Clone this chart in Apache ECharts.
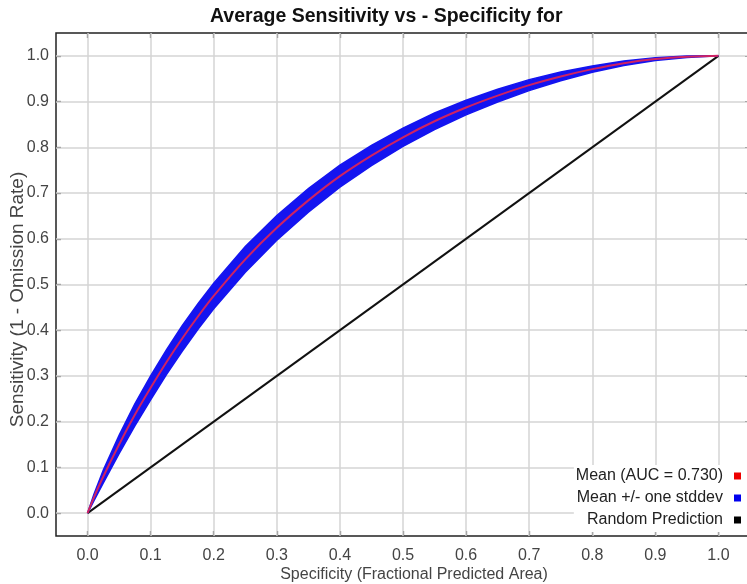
<!DOCTYPE html>
<html>
<head>
<meta charset="utf-8">
<script src="https://cdn.jsdelivr.net/npm/echarts@6/dist/echarts.min.js"></script>
<style>
  html, body { margin: 0; padding: 0; background: #fff; }
  #rocChart { width: 747px; height: 584px; }
</style>
</head>
<body>
<div id="rocChart"></div>
<script>
// fraction of predicted area (x) and the mean / stddev of sensitivity
var specificity     = [0, 0.01, 0.025, 0.05, 0.075, 0.1, 0.125, 0.15, 0.175, 0.2, 0.25, 0.3, 0.35, 0.4, 0.45, 0.5, 0.55, 0.6, 0.65, 0.7, 0.75, 0.8, 0.85, 0.9, 0.95, 1.0];
var meanSensitivity = [0, 0.034, 0.08, 0.15, 0.215, 0.274, 0.33, 0.382, 0.43, 0.475, 0.555, 0.624, 0.684, 0.737, 0.782, 0.822, 0.857, 0.887, 0.913, 0.936, 0.955, 0.971, 0.984, 0.993, 0.998, 1.0];
var stdSensitivity  = [0, 0.007, 0.014, 0.02, 0.024, 0.026, 0.027, 0.028, 0.028, 0.028, 0.028, 0.027, 0.026, 0.024, 0.022, 0.02, 0.018, 0.016, 0.014, 0.012, 0.0095, 0.007, 0.005, 0.003, 0.0015, 0];
var randomX = [0, 1];
var randomY = [0, 1];
var tickValues = [0, 0.1, 0.2, 0.3, 0.4, 0.5, 0.6, 0.7, 0.8, 0.9, 1.0];

var chartOption;

function buildOption(){
    var meanData = [], bandData = [], randomData = [];
    for (var i = 0; i < specificity.length; i++) {
        meanData.push([specificity[i], meanSensitivity[i]]);
        bandData.push([specificity[i], meanSensitivity[i] - stdSensitivity[i], meanSensitivity[i] + stdSensitivity[i]]);
    }
    for (var j = 0; j < randomX.length; j++) {
        randomData.push([randomX[j], randomY[j]]);
    }

    var gridLines = [];
    tickValues.forEach(function (v) {
        gridLines.push({ xAxis: v });
        gridLines.push({ yAxis: v });
    });

    var font = 'Liberation Sans, Arial';

    function axisDef(pos, showLabel, margin){
        return {
            type: 'value', position: pos, min: -0.05, max: 1.05,
            axisLine: { show: false, onZero: false },
            axisTick: { show: true, inside: true, length: 5, customValues: tickValues,
                        lineStyle: { color: '#222', width: 1.2 } },
            axisLabel: { show: showLabel, customValues: tickValues, margin: margin,
                         formatter: function (v) { return v.toFixed(1); },
                         fontFamily: font, fontSize: 16, color: '#444' },
            splitLine: { show: false }
        };
    }

    var xBottom = axisDef('bottom', true, 12);
    xBottom.name = 'Specificity (Fractional Predicted Area)';
    xBottom.nameLocation = 'middle';
    xBottom.nameGap = 31;
    xBottom.nameMoveOverlap = false;
    xBottom.nameTextStyle = { fontFamily: font, fontSize: 16, color: '#444', padding: [0, 0, 0, 22] };
    var yLeft = axisDef('left', true, 7);
    yLeft.name = 'Sensitivity (1 - Omission Rate)';
    yLeft.nameLocation = 'middle';
    yLeft.nameGap = 29;
    yLeft.nameMoveOverlap = false;
    yLeft.nameTextStyle = { fontFamily: font, fontSize: 19, color: '#444', padding: [0, 30, 0, 0] };

    chartOption = {
        animation: false,
        backgroundColor: '#fff',
        title: {
            text: 'Average Sensitivity vs - Specificity for',
            left: 205, top: 2,
            textStyle: { fontFamily: font, fontWeight: 'bold', fontSize: 19.5, color: '#111' }
        },
        grid: {
            left: 56, top: 33, right: -3, bottom: 48,
            outerBoundsMode: 'none', containLabel: false,
            show: true, borderColor: '#222', borderWidth: 1.5, backgroundColor: '#fff'
        },
        legend: {
            orient: 'vertical', right: 0, top: 465, align: 'right', z: 20,
            data: ['Mean (AUC = 0.730)', 'Mean +/- one stddev', 'Random Prediction'],
            icon: 'rect', itemWidth: 7, itemHeight: 7, itemGap: 6,
            backgroundColor: '#fff', padding: [3, 6, 4, 2],
            textStyle: { fontFamily: font, fontSize: 16, color: '#222', padding: [0, 6, 0, 0] }
        },
        xAxis: [xBottom, axisDef('top', false, 8)],
        yAxis: [yLeft, axisDef('right', false, 8)],
        series: [
            {
                // grid lines at the tick values
                name: 'grid', type: 'line', data: [], z: 1, silent: true,
                markLine: {
                    silent: true, symbol: 'none', animation: false, z: 1,
                    label: { show: false },
                    lineStyle: { type: 'solid', color: '#d4d4d4', width: 1.5 },
                    emphasis: { disabled: true },
                    data: gridLines
                }
            },
            {
                name: 'Random Prediction', type: 'line', data: randomData, z: 3,
                symbol: 'none', itemStyle: { color: '#000' },
                lineStyle: { color: '#111', width: 2 }
            },
            {
                name: 'Mean +/- one stddev', type: 'custom', data: bandData, z: 4,
                itemStyle: { color: '#0000ee' },
                encode: { x: 0, y: [1, 2] },
                renderItem: function (params, api) {
                    if (params.dataIndex !== 0) return null;
                    var pts = [], k;
                    for (k = 0; k < bandData.length; k++) pts.push(api.coord([bandData[k][0], bandData[k][2]]));
                    for (k = bandData.length - 1; k >= 0; k--) pts.push(api.coord([bandData[k][0], bandData[k][1]]));
                    return {
                        type: 'polygon',
                        shape: { points: pts },
                        style: { fill: '#1414f0', stroke: '#1414f0', lineWidth: 1.5 }
                    };
                }
            },
            {
                name: 'Mean (AUC = 0.730)', type: 'line', data: meanData, z: 5,
                symbol: 'none', smooth: 0.2, itemStyle: { color: '#ee0000' },
                lineStyle: { color: '#cf2262', width: 2 }
            }
        ]
    };
}

function setChart(){
    var myChart = echarts.init(document.getElementById('rocChart'));
    myChart.setOption(chartOption);
}

buildOption();
setChart();
</script>
</body>
</html>
